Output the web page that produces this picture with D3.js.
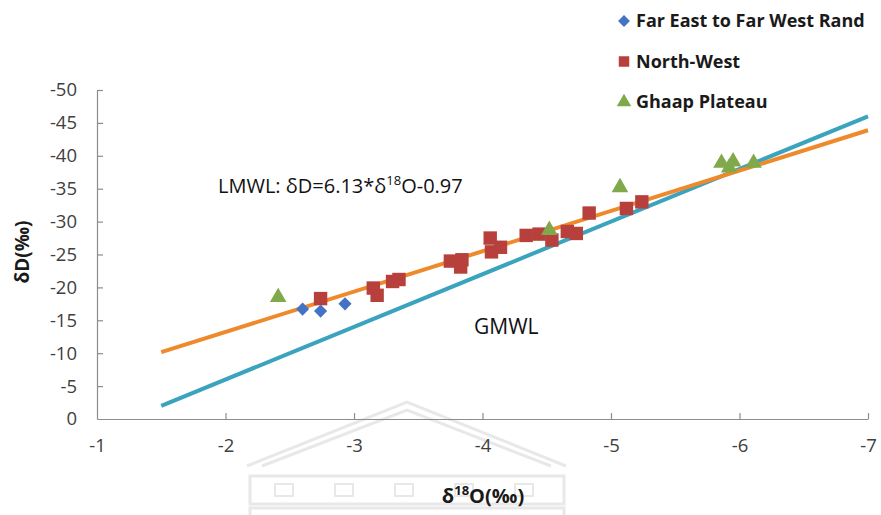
<!DOCTYPE html>
<html>
<head>
<meta charset="utf-8">
<script src="https://cdn.jsdelivr.net/npm/d3@7"></script>
<style>
  html, body { margin: 0; padding: 0; background: #fff; }
  svg { display: block; font-family: "Open Sans", Lato, sans-serif; }
</style>
</head>
<body>
<svg id="chart" width="881" height="515"></svg>
<script>
// Isotope samples: [δ18O, δD] in per mil
const farEastWestRand = [[-2.60, -16.7], [-2.74, -16.4], [-2.93, -17.5]];
const northWest = [
  [-2.74, -18.3], [-3.15, -19.9], [-3.18, -18.8], [-3.30, -20.9], [-3.35, -21.2],
  [-3.75, -24.0], [-3.84, -24.2], [-3.83, -23.1], [-4.06, -27.5], [-4.07, -25.4],
  [-4.14, -26.1], [-4.34, -27.9], [-4.44, -28.1], [-4.54, -27.2], [-4.66, -28.5],
  [-4.73, -28.2], [-4.83, -31.3], [-5.12, -32.0], [-5.24, -33.0]
];
const ghaapPlateau = [
  [-2.41, -18.5], [-4.52, -28.7], [-5.07, -35.2], [-5.86, -38.9],
  [-5.92, -38.2], [-5.95, -39.1], [-6.11, -38.9]
];

// Meteoric water lines: δD = slope * δ18O + intercept
const lmwl = { slope: 6.13, intercept: -0.97 };
const gmwl = { slope: 8, intercept: 10 };
const lineExtent = [-1.5, -7];

const xTicks = [-1, -2, -3, -4, -5, -6, -7];
const yTicks = [0, -5, -10, -15, -20, -25, -30, -35, -40, -45, -50];

const colors = {
  diamond: "#4472c4", square: "#b8403c", triangle: "#7fa94a",
  lmwl: "#ef8a2c", gmwl: "#3aa3bd", axis: "#8c8c8c", text: "#404040"
};

const svg = d3.select("#chart");
const x = d3.scaleLinear().domain([-1, -7]).range([97, 868]);
const y = d3.scaleLinear().domain([0, -50]).range([419, 90]);

// faint crest in the background
const wm = svg.append("g").attr("fill", "none").attr("stroke", "#e8e8e8").attr("stroke-width", 3);
wm.append("path").attr("d", "M247,466 L407,402 L566,466");
wm.append("path").attr("d", "M262,466 L407,410 L551,466");
wm.append("rect").attr("x", 250).attr("y", 476).attr("width", 314).attr("height", 28);
wm.append("rect").attr("x", 250).attr("y", 508).attr("width", 314).attr("height", 10);
d3.range(5).forEach(i => {
  wm.append("rect").attr("x", 275 + i * 60).attr("y", 484).attr("width", 18).attr("height", 12)
    .attr("stroke-width", 2);
});

// axes
const xAxis = d3.axisBottom(x).tickValues(xTicks).tickFormat(d => String(d))
  .tickSizeInner(-6).tickSizeOuter(0).tickPadding(20);
const yAxis = d3.axisLeft(y).tickValues(yTicks).tickFormat(d => String(d))
  .tickSizeInner(-6).tickSizeOuter(0).tickPadding(20);

const gx = svg.append("g").attr("transform", `translate(0,${y(0)})`).call(xAxis);
const gy = svg.append("g").attr("transform", `translate(${x(-1)},0)`).call(yAxis);
[gx, gy].forEach(g => {
  g.select(".domain").attr("stroke", colors.axis).attr("stroke-width", 1.2);
  g.selectAll(".tick line").attr("stroke", colors.axis).attr("stroke-width", 1.2);
  g.selectAll(".tick text").attr("fill", colors.text).attr("font-size", 18.5)
    .attr("font-family", "'Open Sans', sans-serif");
});
gx.selectAll(".tick").filter(d => d === -1).select("line").remove();
gy.selectAll(".tick").filter(d => d === 0).select("line").remove();

// axis titles
svg.append("text").attr("transform", "translate(29,252) rotate(-90)")
  .attr("text-anchor", "middle").attr("font-size", 19).attr("font-weight", "bold")
  .attr("fill", "#1a1a1a").text("δD(‰)");
const xt = svg.append("text").attr("x", 483).attr("y", 503).attr("text-anchor", "middle")
  .attr("font-size", 20).attr("font-weight", "bold").attr("fill", "#1a1a1a");
xt.append("tspan").text("δ");
xt.append("tspan").attr("font-size", 13).attr("dy", -8).text("18");
xt.append("tspan").attr("dy", 8).text("O(‰)");

// water lines
const lineGen = c => d3.line().x(d => x(d)).y(d => y(c.slope * d + c.intercept))(lineExtent);
svg.append("path").attr("d", lineGen(gmwl)).attr("stroke", colors.gmwl)
  .attr("stroke-width", 4).attr("fill", "none");
svg.append("path").attr("d", lineGen(lmwl)).attr("stroke", colors.lmwl)
  .attr("stroke-width", 4).attr("fill", "none");

// markers
const sym = {
  diamond: d3.symbol().type(d3.symbolDiamond2).size(110),
  square: d3.symbol().type(d3.symbolSquare).size(180),
  triangle: d3.symbol().type(d3.symbolTriangle).size(120)
};
function plot(data, kind) {
  svg.append("g").selectAll("path").data(data).join("path")
    .attr("transform", d => `translate(${x(d[0])},${y(d[1])})`)
    .attr("d", sym[kind]()).attr("fill", colors[kind]);
}
plot(northWest, "square");
plot(farEastWestRand, "diamond");
plot(ghaapPlateau, "triangle");

// annotations
const ann = svg.append("text").attr("x", 218).attr("y", 193).attr("font-size", 20)
  .attr("fill", "#111");
ann.append("tspan").text("LMWL: δD=6.13*δ");
ann.append("tspan").attr("font-size", 13).attr("dy", -8).text("18");
ann.append("tspan").attr("dy", 8).text("O-0.97");
svg.append("text").attr("x", 474).attr("y", 334).attr("font-size", 21)
  .attr("fill", "#111").text("GMWL");

// legend
const legend = [
  { label: "Far East to Far West Rand", kind: "diamond" },
  { label: "North-West", kind: "square" },
  { label: "Ghaap Plateau", kind: "triangle" }
];
const lg = svg.append("g").selectAll("g").data(legend).join("g")
  .attr("transform", (d, i) => `translate(624,${21 + i * 40.5})`);
lg.append("path").attr("d", d => d3.symbol().type(
    d.kind === "diamond" ? d3.symbolDiamond2 : d.kind === "square" ? d3.symbolSquare : d3.symbolTriangle
  ).size(d.kind === "square" ? 110 : 90)()).attr("fill", d => colors[d.kind]);
lg.append("text").attr("x", 12).attr("dy", "0.35em").attr("font-size", 18)
  .attr("font-weight", "bold").attr("fill", "#1a1a1a").text(d => d.label);
</script>
</body>
</html>
